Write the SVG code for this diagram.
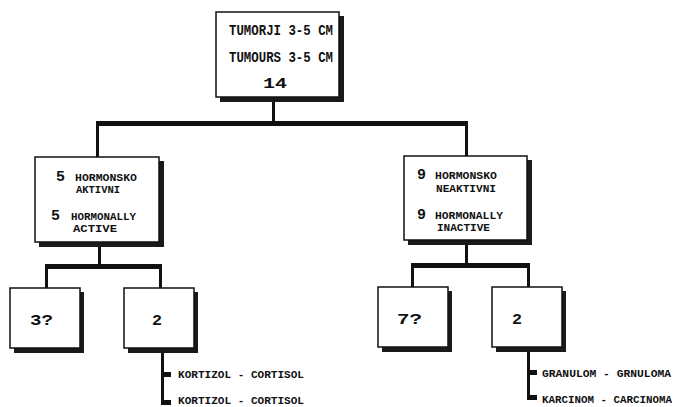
<svg xmlns="http://www.w3.org/2000/svg" width="679" height="407" viewBox="0 0 679 407">
<style>
.sh{fill:#1a1a1a}
.bx{fill:#fff;stroke:#111;stroke-width:1.5}
.t{font-family:"Liberation Mono","DejaVu Sans Mono",monospace;font-weight:bold;fill:#111}
.c{fill:#111}
</style>
<rect width="679" height="407" fill="#fff"/>
<g id="connectors">
<rect class="c" x="272" y="100" width="3" height="22"/>
<rect class="c" x="96" y="121" width="372" height="5"/>
<rect class="c" x="96" y="121" width="3" height="36"/>
<rect class="c" x="465" y="121" width="3" height="35"/>
<rect class="c" x="98" y="245" width="3" height="21"/>
<rect class="c" x="45" y="264" width="117" height="5"/>
<rect class="c" x="45" y="264" width="3" height="24"/>
<rect class="c" x="159" y="264" width="3" height="24"/>
<rect class="c" x="465" y="243" width="3" height="21"/>
<rect class="c" x="411" y="263" width="119" height="5"/>
<rect class="c" x="411" y="263" width="3" height="24"/>
<rect class="c" x="527" y="263" width="3" height="24"/>
<rect class="c" x="161" y="350" width="3" height="55"/>
<rect class="c" x="161" y="372" width="10" height="5"/>
<rect class="c" x="161" y="400" width="10" height="5"/>
<rect class="c" x="527" y="349" width="3" height="51"/>
<rect class="c" x="527" y="370" width="10" height="5"/>
<rect class="c" x="527" y="395" width="10" height="5"/>
</g>
<g id="n_top">
<rect class="sh" x="220" y="16" width="124" height="86"/>
<rect class="bx" x="216" y="12" width="123" height="85"/>
<text class="t" x="229" y="35" font-size="14" textLength="104" lengthAdjust="spacingAndGlyphs">TUMORJI 3-5 CM</text>
<text class="t" x="229" y="62" font-size="14" textLength="104" lengthAdjust="spacingAndGlyphs">TUMOURS 3-5 CM</text>
<text class="t" x="263" y="88" font-size="15" textLength="24" lengthAdjust="spacingAndGlyphs">14</text>
</g>
<g id="n_active">
<rect class="sh" x="39" y="161" width="125" height="86"/>
<rect class="bx" x="35" y="157" width="124" height="85"/>
<text class="t" x="56" y="181" font-size="15" textLength="9" lengthAdjust="spacingAndGlyphs">5</text>
<text class="t" x="75" y="181" font-size="11" textLength="62" lengthAdjust="spacingAndGlyphs">HORMONSKO</text>
<text class="t" x="76" y="193" font-size="11" textLength="44" lengthAdjust="spacingAndGlyphs">AKTIVNI</text>
<text class="t" x="51" y="220" font-size="15" textLength="9" lengthAdjust="spacingAndGlyphs">5</text>
<text class="t" x="71" y="220" font-size="11" textLength="65" lengthAdjust="spacingAndGlyphs">HORMONALLY</text>
<text class="t" x="73" y="232" font-size="11" textLength="44" lengthAdjust="spacingAndGlyphs">ACTIVE</text>
</g>
<g id="n_inactive">
<rect class="sh" x="408" y="160" width="124" height="85"/>
<rect class="bx" x="404" y="156" width="123" height="84"/>
<text class="t" x="417" y="179" font-size="15" textLength="9" lengthAdjust="spacingAndGlyphs">9</text>
<text class="t" x="435" y="179" font-size="11" textLength="62" lengthAdjust="spacingAndGlyphs">HORMONSKO</text>
<text class="t" x="436" y="192" font-size="11" textLength="60" lengthAdjust="spacingAndGlyphs">NEAKTIVNI</text>
<text class="t" x="417" y="219" font-size="15" textLength="9" lengthAdjust="spacingAndGlyphs">9</text>
<text class="t" x="435" y="219" font-size="11" textLength="68" lengthAdjust="spacingAndGlyphs">HORMONALLY</text>
<text class="t" x="437" y="231" font-size="11" textLength="53" lengthAdjust="spacingAndGlyphs">INACTIVE</text>
</g>
<g id="n_3q">
<rect class="sh" x="14" y="292" width="70" height="61"/>
<rect class="bx" x="10" y="288" width="70" height="60"/>
<text class="t" x="30" y="325" font-size="15" textLength="23" lengthAdjust="spacingAndGlyphs">3?</text>
</g>
<g id="n_2a">
<rect class="sh" x="128" y="292" width="70" height="61"/>
<rect class="bx" x="124" y="288" width="70" height="60"/>
<text class="t" x="152" y="325" font-size="15" textLength="10" lengthAdjust="spacingAndGlyphs">2</text>
</g>
<g id="n_7q">
<rect class="sh" x="382" y="291" width="70" height="61"/>
<rect class="bx" x="378" y="287" width="70" height="60"/>
<text class="t" x="397" y="324" font-size="15" textLength="25" lengthAdjust="spacingAndGlyphs">7?</text>
</g>
<g id="n_2b">
<rect class="sh" x="496" y="291" width="70" height="61"/>
<rect class="bx" x="492" y="287" width="70" height="60"/>
<text class="t" x="512" y="324" font-size="15" textLength="10" lengthAdjust="spacingAndGlyphs">2</text>
</g>
<g id="labels">
<text class="t" x="178" y="378" font-size="11" textLength="126" lengthAdjust="spacingAndGlyphs">KORTIZOL - CORTISOL</text>
<text class="t" x="178" y="404" font-size="11" textLength="126" lengthAdjust="spacingAndGlyphs">KORTIZOL - CORTISOL</text>
<text class="t" x="542" y="377" font-size="11" textLength="129" lengthAdjust="spacingAndGlyphs">GRANULOM - GRNULOMA</text>
<text class="t" x="542" y="403" font-size="11" textLength="130" lengthAdjust="spacingAndGlyphs">KARCINOM - CARCINOMA</text>
</g>
</svg>
